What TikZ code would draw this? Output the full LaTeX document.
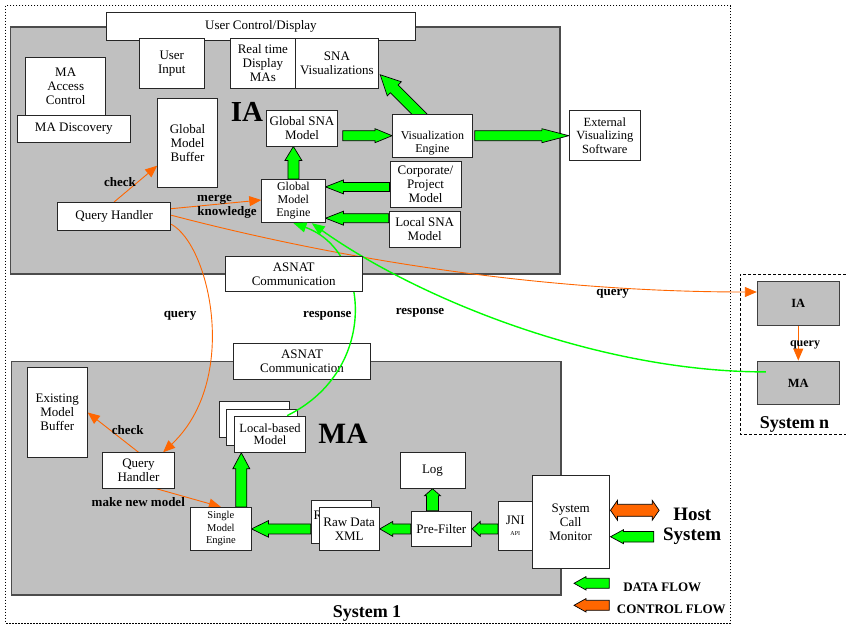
\documentclass[tikz,border=0pt]{standalone}
\usepackage{fontspec}
\setmainfont{Liberation Serif}
\usetikzlibrary{calc,arrows.meta}
\definecolor{grn}{RGB}{0,255,0}
\definecolor{org}{RGB}{255,102,0}
\definecolor{gry}{RGB}{192,192,192}
\pgfdeclarelayer{bg}
\pgfdeclarelayer{mid}
\pgfsetlayers{bg,mid,main}
% single block arrow: [style]{start}{end}{shaft half}{head half}{head length}
\newcommand\blockarrow[6][]{%
  \coordinate (ba-h) at ($(#3)!#6!(#2)$);
  \draw[blockarr,#1] ($(#2)!#4!90:(#3)$) -- ($(ba-h)!#4!90:(#3)$) -- ($(ba-h)!#5!90:(#3)$) -- (#3)
     -- ($(ba-h)!#5!-90:(#3)$) -- ($(ba-h)!#4!-90:(#3)$) -- ($(#2)!#4!-90:(#3)$) -- cycle;}
% double block arrow
\newcommand\dblockarrow[6][]{%
  \coordinate (ba-a) at ($(#2)!#6!(#3)$);
  \coordinate (ba-b) at ($(#3)!#6!(#2)$);
  \draw[blockarr,#1] (#2) -- ($(ba-a)!#5!90:(#3)$) -- ($(ba-a)!#4!90:(#3)$) -- ($(ba-b)!#4!90:(#3)$)
     -- ($(ba-b)!#5!90:(#3)$) -- (#3) -- ($(ba-b)!#5!-90:(#3)$) -- ($(ba-b)!#4!-90:(#3)$)
     -- ($(ba-a)!#4!-90:(#3)$) -- ($(ba-a)!#5!-90:(#3)$) -- cycle;}
\tikzset{
  box/.style={draw=black!85, line width=0.9pt, fill=white, inner sep=0pt, align=center,
     font=\fontsize{13}{14}\selectfont},
  gbox/.style={draw=black!75, line width=1pt, fill=gry, inner sep=0pt, align=center,
     font=\bfseries\fontsize{12.5}{14}\selectfont},
  region/.style={fill=gry, draw=black!70, line width=1.3pt},
  blockarr/.style={draw=black, line width=0.7pt, fill=grn, line join=miter},
  ctrl/.style={draw=org, line width=0.9pt, -{Triangle[length=12pt,width=10pt]}},
  resp/.style={draw=grn, line width=1.4pt, -{Triangle[length=13pt,width=10pt]}},
  lbl/.style={font=\bfseries\fontsize{13}{14}\selectfont, anchor=base, inner sep=0pt},
}
\begin{document}
\begin{tikzpicture}[x=1pt,y=-1pt]
\useasboundingbox (0,0) rectangle (846,626);
\begin{pgfonlayer}{bg}
  \draw[line width=1pt, dash pattern=on 1.5pt off 1.5pt] (5.7,5.7) rectangle (730.7,623);
  \draw[line width=1pt, dash pattern=on 3pt off 2pt] (846,274.3) -- (740,274.3) -- (740,434) -- (846,434);
  \draw[region] (10.7,27) rectangle (560,274);
  \draw[region] (11.3,361.7) rectangle (561,595);
\end{pgfonlayer}

% ---------- IA boxes ----------
\node[box, minimum width=309.7pt, minimum height=27.6pt] (ucd) at (260.9,26.5) {User Control/Display};
\node[box, minimum width=65pt, minimum height=50pt] (ui) at (171.8,63.3) {User\\Input};
\node[box, minimum width=64.3pt, minimum height=50pt] (rtd) at (262.9,63.3) {Real time\\Display\\MAs};
\node[box, minimum width=83.7pt, minimum height=50pt] (snav) at (336.9,63.3) {SNA\\Visualizations};
\node[box, minimum width=80pt, minimum height=57.7pt] (mac) at (65.7,86.2) {MA\\Access\\Control};
\node[box, minimum width=113pt, minimum height=27.7pt] (mad) at (73.8,128.9) {MA Discovery};
\node[box, minimum width=59.6pt, minimum height=89.3pt] (gmb) at (187.5,142.7) {Global\\Model\\Buffer};
\node[box, minimum width=70.6pt, minimum height=35.3pt] (gsm) at (302,128.4) {Global SNA\\Model};
\node[box, minimum width=79.8pt, minimum height=43.3pt] (ve) at (432.4,135.7) {};
\node[align=center, inner sep=0pt, font=\fontsize{12}{13}\selectfont] (vet) at ($(ve.center)+(0,7)$) {Visualization\\Engine};
\node[box, minimum width=71pt, minimum height=50pt, font=\fontsize{12.5}{13.7}\selectfont] (evs) at (604.8,135.7) {External\\Visualizing\\Software};
\node[box, minimum width=71pt, minimum height=46pt] (cpm) at (425.5,184.7) {Corporate/\\Project\\Model};
\node[box, minimum width=71.3pt, minimum height=36.3pt] (lsm) at (424.7,229.2) {Local SNA\\Model};
\node[box, minimum width=63.3pt, minimum height=43.4pt, font=\fontsize{12}{13}\selectfont] (gme) at (293.4,201) {Global\\Model\\Engine};
\node[box, minimum width=113pt, minimum height=27.7pt] (qh1) at (114.2,216.2) {Query Handler};

% ---------- MA boxes ----------
\node[box, minimum width=137.4pt, minimum height=36pt] (asn2) at (302,361.3) {ASNAT\\Communication};
\node[box, minimum width=60pt, minimum height=89.6pt] (emb) at (57.3,412.5) {Existing\\Model\\Buffer};
\node[box, minimum width=71.6pt, minimum height=35.6pt] (qh2) at (138.5,470.5) {Query\\Handler};
\node[box, minimum width=60.3pt, minimum height=42.7pt, font=\fontsize{10.5}{12.5}\selectfont] (sme) at (220.9,528.7) {Single\\Model\\Engine};
\node[box, minimum width=70.6pt, minimum height=36.3pt] (lbm3) at (254.3,419.2) {};
\node[box, minimum width=70.6pt, minimum height=36.3pt] (lbm2) at (262,427.5) {};
\node[box, minimum width=70.6pt, minimum height=36.3pt, font=\fontsize{12.5}{12.7}\selectfont] (lbm) at (270,434.2) {Local-based\\Model};
\node[box, minimum width=60.3pt, minimum height=42.3pt] (rdxb) at (341.2,521.9) {};
\node[anchor=base west, inner sep=0pt, font=\fontsize{13}{14}\selectfont] (rdxbt) at (313.3,519.5) {R};
\node[box, minimum width=60.3pt, minimum height=42.3pt] (rdx) at (349.2,528.9) {Raw Data\\XML};
\node[box, minimum width=65pt, minimum height=36pt] (log) at (432.5,470.3) {Log};
\node[box, minimum width=60.7pt, minimum height=35.7pt] (pf) at (441.4,528.9) {Pre-Filter};
\node[box, minimum width=34pt, minimum height=49.3pt] (jni) at (515.3,525.7) {JNI\\[-3pt]{\fontsize{6}{6}\selectfont API}};
\node[box, minimum width=76.7pt, minimum height=93.4pt] (scm) at (570.7,522) {System\\Call\\Monitor};

% ---------- System n ----------
\node[gbox, minimum width=82pt, minimum height=43.3pt] (ian) at (798.3,303.4) {IA};
\node[gbox, minimum width=82pt, minimum height=43.7pt] (man) at (798.3,382.9) {MA};

% ---------- block arrows and control lines (under boxes) ----------
\begin{pgfonlayer}{mid}
  \coordinate (g1s) at (gme.north);
  \coordinate (g1e) at (gme.north |- gsm.south);
  \blockarrow{g1s}{g1e}{5.5pt}{8.5pt}{14pt}
  \coordinate (g2s) at ($(gsm.east |- ve.west)+(5,0)$);
  \coordinate (g2e) at (ve.west);
  \blockarrow{g2s}{g2e}{5pt}{7pt}{17pt}
  \coordinate (g3s) at ($(ve.north west)+(31,4)$);
  \coordinate (g3e) at ($(snav.south east)+(1,-14)$);
  \blockarrow{g3s}{g3e}{5.5pt}{10pt}{20pt}
  \coordinate (g4s) at ($(ve.east)+(2,0)$);
  \coordinate (g4e) at (evs.west);
  \blockarrow{g4s}{g4e}{5pt}{7pt}{27pt}
  \coordinate (g5s) at ($(cpm.west)+(0,2.2)$);
  \coordinate (g5e) at (gme.east |- g5s);
  \blockarrow{g5s}{g5e}{4.5pt}{7pt}{18pt}
  \coordinate (g6s) at ($(lsm.west)+(0,-11)$);
  \coordinate (g6e) at (gme.east |- g6s);
  \blockarrow{g6s}{g6e}{4.5pt}{7pt}{18pt}
  \coordinate (g7s) at ($(sme.north west)+(51,0)$);
  \coordinate (g7e) at (g7s |- lbm.south);
  \blockarrow{g7s}{g7e}{5.5pt}{8.5pt}{16pt}
  \coordinate (g8s) at (rdxb.west |- rdx.west);
  \coordinate (g8e) at (sme.east |- rdx.west);
  \blockarrow{g8s}{g8e}{5pt}{8.3pt}{17pt}
  \coordinate (g9s) at (pf.west);
  \coordinate (g9e) at (rdx.east |- pf.west);
  \blockarrow{g9s}{g9e}{5pt}{7.5pt}{13pt}
  \coordinate (g10s) at (log.south |- pf.north);
  \coordinate (g10e) at (log.south);
  \blockarrow{g10s}{g10e}{6pt}{8pt}{7pt}
  \coordinate (g11s) at (jni.west |- pf.east);
  \coordinate (g11e) at (pf.east);
  \blockarrow{g11s}{g11e}{5pt}{7.5pt}{8pt}

  \draw[ctrl] (qh1.north) -- ($(gmb.west)+(0,23)$);
  \draw[ctrl] ($(qh1.east)+(0,-7.5)$) -- ($(gme.west)+(0,-1)$);
  \draw[ctrl] ($(qh1.east)+(0,-1)$) .. controls (350,262) and (550,292) .. ($(ian.west)+(0,-11.4)$);
  \draw[ctrl] ($(qh1.east)+(0,8)$) .. controls (210,245) and (240,380) .. ($(qh2.north east)+(-11.6,0)$);
  \draw[ctrl] (qh2.north) -- (emb.east);
  \draw[ctrl] ($(qh2.south)+(18,0)$) -- (sme.north);
  \draw[ctrl] (ian.south) -- (man.north);
\end{pgfonlayer}

% ---------- host and legend arrows ----------
\coordinate (h1a) at ($(scm.east)+(1,-11.7)$);
\coordinate (h1b) at ($(h1a)+(48.7,0)$);
\dblockarrow[fill=org]{h1a}{h1b}{6pt}{10pt}{7pt}
\coordinate (h2e) at ($(scm.east)+(1,14.7)$);
\coordinate (h2s) at ($(h2e)+(43.3,0)$);
\blockarrow{h2s}{h2e}{5.3pt}{7pt}{13pt}
\coordinate (d1s) at (609.3,583.3);
\coordinate (d1e) at (574,583.3);
\blockarrow{d1s}{d1e}{5pt}{6.7pt}{12pt}
\coordinate (c1s) at (609.3,605.3);
\coordinate (c1e) at (574,605.3);
\blockarrow[fill=org]{c1s}{c1e}{5pt}{6.7pt}{12pt}

% ---------- response lines ----------
\draw[resp] ($(lbm.north east)+(-18.6,0)$) .. controls (380,370) and (370,250) .. (gme.south);
\draw[resp] ($(man.west)+(9,-11)$) .. controls (600,372) and (420,300) .. ($(gme.south)+(18.3,0)$);

% top ASNAT box (over the response line)
\node[box, minimum width=137.3pt, minimum height=35pt] (asn1) at (293.7,274.2) {ASNAT\\Communication};

% ---------- labels ----------
\node[lbl, font=\bfseries\fontsize{29}{30}\selectfont] (lia) at (247,121.7) {IA};
\node[lbl, font=\bfseries\fontsize{29.5}{30}\selectfont] (lma) at (343,443.3) {MA};
\node[lbl, font=\bfseries\fontsize{18}{20}\selectfont] (ls1) at (367,617.3) {System 1};
\node[lbl, font=\bfseries\fontsize{18}{20}\selectfont] (lsn) at (794.5,428.3) {System n};
\node[lbl, font=\bfseries\fontsize{19}{20}\selectfont] (lhost) at (692.3,520.7) {Host};
\node[lbl, font=\bfseries\fontsize{19}{20}\selectfont] (lsys) at (692.2,540.7) {System};
\node[lbl] (ldf) at (662.2,591.7) {DATA FLOW};
\node[lbl] (lcf) at (671.3,613.3) {CONTROL FLOW};
\node[lbl] (lck1) at (120,186.7) {check};
\node[lbl] (lmg) at (214.5,201.3) {merge};
\node[lbl] (lkn) at (227,215.3) {knowledge};
\node[lbl] (lck2) at (127.7,434.3) {check};
\node[lbl] (lmk) at (138.3,506.7) {make new model};
\node[lbl] (lq1) at (180,317.3) {query};
\node[lbl] (lr1) at (327.3,317.3) {response};
\node[lbl] (lr2) at (420,314.3) {response};
\node[lbl] (lq2) at (612.7,295) {query};
\node[lbl, font=\bfseries\fontsize{12}{13}\selectfont] (lq3) at (805,346.7) {query};
\end{tikzpicture}
\end{document}
